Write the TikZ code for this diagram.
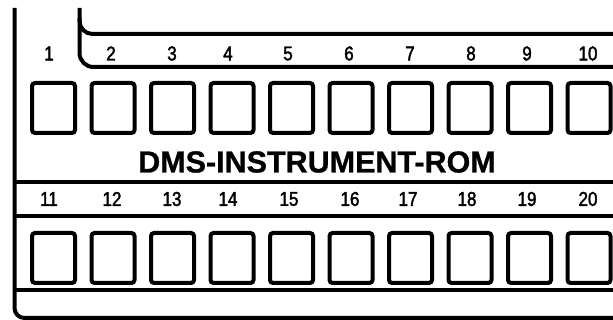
\documentclass[tikz,border=0pt]{standalone}
\usepackage{fontspec}
\setmainfont{Liberation Sans}
\newfontfamily\numfont[FakeBold=2, FakeStretch=0.85]{Liberation Sans}
\newfontfamily\titlefont[FakeBold=0.8]{Liberation Sans Bold}
\usetikzlibrary{positioning}

\begin{document}
\begin{tikzpicture}[
  x=1pt, y=-1pt,
  key/.style={draw, line width=4pt, rounded corners=3pt, inner sep=0pt, minimum width=43pt, minimum height=50pt},
  num/.style={font=\numfont\fontsize{20}{20}\selectfont, inner sep=0pt},
  rail/.style={line width=4pt}
]
\useasboundingbox (0,0) rectangle (613,320);
% frame and rails
\draw[rail, rounded corners=10pt] (14.5,8) -- (14.5,318) -- (613,318);
\draw[rail] (14.5,182) -- (613,182);
\draw[rail] (14.5,216) -- (613,216);
\draw[rail] (14.5,290) -- (613,290);
% bracket over 2..10
\draw[rail, rounded corners=14pt] (79.5,8) -- (79.5,67) -- (613,67);
\draw[rail, rounded corners=13pt] (79.5,18) -- (79.5,34) -- (613,34);
% keys
\foreach \i in {1,...,10} {
  \node[key] (k\i) at ({53.5+59.5*(\i-1)},108) {};
  \node[key, below=96pt of k\i] (k\the\numexpr\i+10\relax) {};
}
% numbers
\foreach \n/\lx in {1/49,2/111,3/172,4/228,5/288,6/349,7/410,8/471,9/527,10/588}
  \node[num] (n\n) at (\lx,53.5) {\n};
\foreach \n/\lx in {11/49,12/112,13/172,14/228,15/289,16/350,17/408,18/467,19/527,20/588}
  \node[num] (n\n) at (\lx,199) {\n};
\node[font=\titlefont\fontsize{30.5}{30.5}\selectfont, inner sep=0pt] (title) at (317,162) {DMS-INSTRUMENT-ROM};
\end{tikzpicture}
\end{document}
